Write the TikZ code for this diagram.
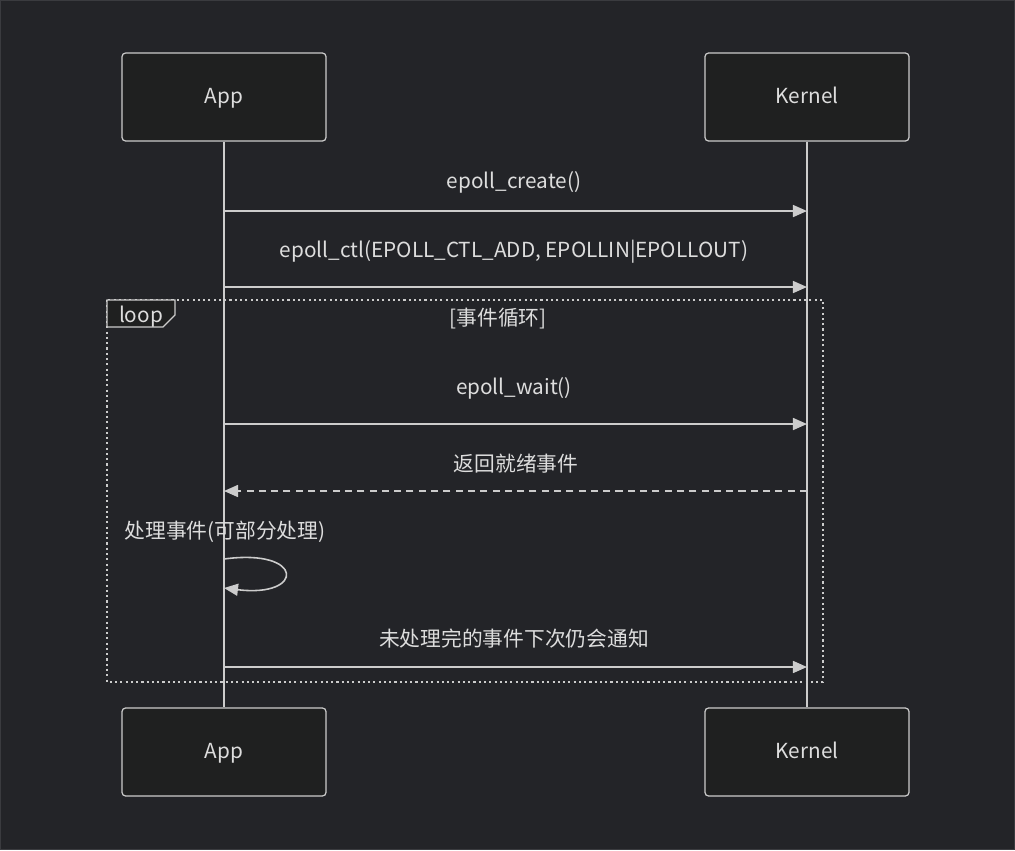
\documentclass[tikz,border=0pt]{standalone}
\usepackage{fontspec}
\setmainfont{Noto Sans CJK SC}
\usepackage{tikz}
\usepackage{xcolor}
\definecolor{BgDark}{HTML}{232428}
\definecolor{FrameGray}{HTML}{3A3B3F}
\definecolor{BoxFill}{HTML}{1F2020}
\definecolor{LineGray}{HTML}{CCCCCC}
\definecolor{TextGray}{HTML}{DDDDDD}
\usetikzlibrary{arrows.meta, positioning, calc}

\tikzset{
    actor/.style={draw=LineGray, fill=BoxFill, rounded corners=2pt, line width=0.7pt,
        minimum width=4.08cm, minimum height=1.76cm, text=TextGray, font=\fontsize{11.8}{14}\selectfont,
        text height=1.9ex, text depth=0.5ex},
    msg/.style={text=TextGray, font=\fontsize{11.8}{14}\selectfont, text height=1.9ex, text depth=0.5ex},
    lifeline/.style={draw=LineGray, line width=1.1pt},
    call/.style={draw=LineGray, line width=0.9pt, -{Triangle[length=2.8mm, width=2.4mm]}},
    reply/.style={call, dash pattern=on 4pt off 3pt}
}

\begin{document}
\begin{tikzpicture}[x=0.02cm, y=-0.02cm]
    % background and frame
    \fill[BgDark] (0,0) rectangle (1015,850);
    \draw[FrameGray, line width=0.6pt] (0.5,0.5) rectangle (1014.5,849.5);
    \useasboundingbox (0,0) rectangle (1015,850);

    % actors
    \node[actor] (appTop) at (224,97) {App};
    \node[actor] (kerTop) at (807,97) {Kernel};
    \node[actor] (appBot) at (224,752) {App};
    \node[actor] (kerBot) at (807,752) {Kernel};

    % lifelines
    \draw[lifeline] (appTop) -- (appBot);
    \draw[lifeline] (kerTop) -- (kerBot);

    % loop frame
    \draw[LineGray, line width=1.2pt, dash pattern=on 1.2pt off 1.8pt] (107,300) rectangle (823,682);
    \draw[LineGray, fill=BoxFill, line width=0.7pt] (107,300) -- (175,300) -- (175,315) -- (163,327) -- (107,327) -- cycle;
    \node[msg] (loopTag) at (141,316) {loop};
    \node[msg] (loopTitle) at (498,319) {[事件循环]};

    % anchor points on the lifelines
    \foreach \name/\y in {1/211, 2/287, 3/424, 4/491, 6/667} {
        \coordinate (a\name) at (224,\y);
        \coordinate (k\name) at (807,\y);
    }
    \coordinate (selfOut) at (224,559);
    \coordinate (selfIn) at (224,588);

    % messages
    \node[msg] (m1) at (514,182) {epoll\_create()};
    \draw[call] (a1) -- (k1);

    \node[msg] (m2) at (514,251) {epoll\_ctl(EPOLL\_CTL\_ADD, EPOLLIN|EPOLLOUT)};
    \draw[call] (a2) -- (k2);

    \node[msg] (m3) at (514,388) {epoll\_wait()};
    \draw[call] (a3) -- (k3);

    \node[msg] (m4) at (516,465) {返回就绪事件};
    \draw[reply] (k4) -- (a4);

    \node[msg] (m5) at (225,532) {处理事件(可部分处理)};
    \draw[call] (selfOut) .. controls (305,548) and (305,598) .. (selfIn);

    \node[msg] (m6) at (514,640) {未处理完的事件下次仍会通知};
    \draw[call] (a6) -- (k6);
\end{tikzpicture}
\end{document}
